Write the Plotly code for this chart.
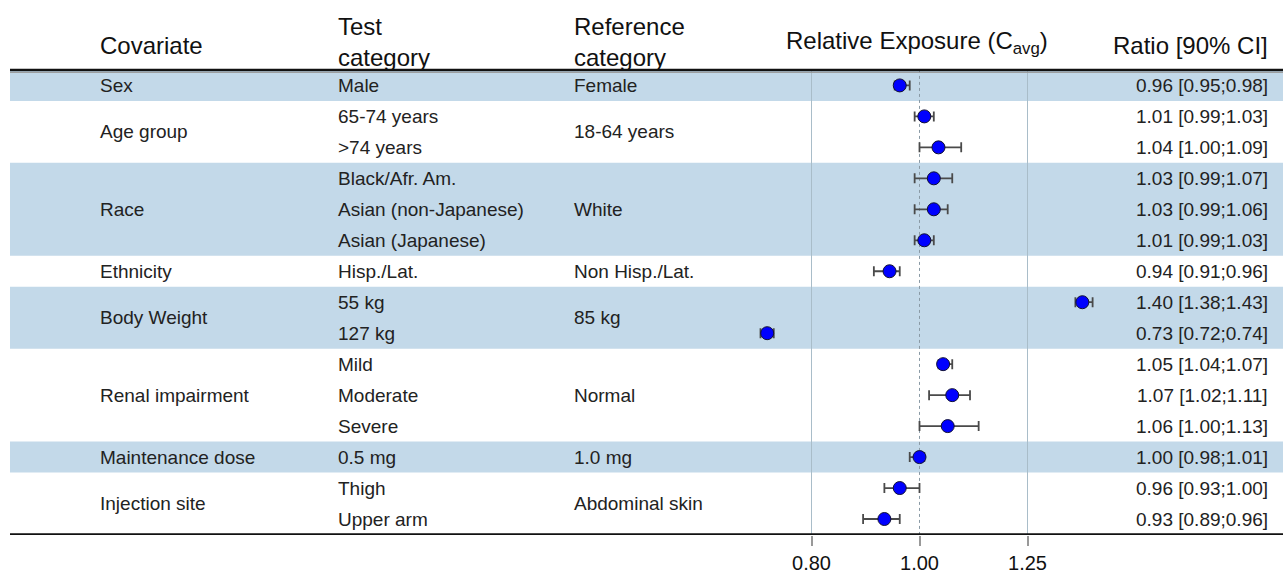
import plotly.graph_objects as go

# ---------------- data ----------------
covariates = ["Sex", "Age group", "Race", "Ethnicity", "Body Weight",
              "Renal impairment", "Maintenance dose", "Injection site"]
group_sizes = [1, 2, 3, 1, 2, 3, 1, 2]
reference_categories = ["Female", "18-64 years", "White", "Non Hisp./Lat.",
                        "85 kg", "Normal", "1.0 mg", "Abdominal skin"]
test_categories = ["Male", "65-74 years", ">74 years", "Black/Afr. Am.",
                   "Asian (non-Japanese)", "Asian (Japanese)", "Hisp./Lat.",
                   "55 kg", "127 kg", "Mild", "Moderate", "Severe",
                   "0.5 mg", "Thigh", "Upper arm"]
ratio = [0.96, 1.01, 1.04, 1.03, 1.03, 1.01, 0.94, 1.40, 0.73,
         1.05, 1.07, 1.06, 1.00, 0.96, 0.93]
ci_low = [0.95, 0.99, 1.00, 0.99, 0.99, 0.99, 0.91, 1.38, 0.72,
          1.04, 1.02, 1.00, 0.98, 0.93, 0.89]
ci_high = [0.98, 1.03, 1.09, 1.07, 1.06, 1.03, 0.96, 1.43, 0.74,
           1.07, 1.11, 1.13, 1.01, 1.00, 0.96]
tick_vals = [0.80, 1.00, 1.25]
tick_text = ["0.80", "1.00", "1.25"]

# ---------------- layout helpers ----------------
W, H = 1283, 575
FONT = "Liberation Sans, Arial, sans-serif"
BAND = "#C3D9E9"
BODY = dict(size=19, color="#222", family=FONT)
n_rows = len(test_categories)
rows = list(range(n_rows))

def px(x):
    return x / W

fig = go.Figure()

annotations = []
shapes = []
start = 0
for gi, (cov, size, ref) in enumerate(zip(covariates, group_sizes, reference_categories)):
    center = start + (size - 1) / 2
    if gi % 2 == 0:
        shapes.append(dict(type="rect", xref="paper", yref="y", x0=px(10), x1=1,
                           y0=start - 0.5, y1=start + size - 0.5,
                           fillcolor=BAND, line=dict(width=0), layer="below"))
    annotations.append(dict(x=px(98), y=center, xref="paper", yref="y", text=cov,
                            xanchor="left", yanchor="middle", showarrow=False, font=BODY))
    annotations.append(dict(x=px(572), y=center, xref="paper", yref="y", text=ref,
                            xanchor="left", yanchor="middle", showarrow=False, font=BODY))
    start += size

for i, t in enumerate(test_categories):
    annotations.append(dict(x=px(336), y=i, xref="paper", yref="y", text=t,
                            xanchor="left", yanchor="middle", showarrow=False, font=BODY))
    annotations.append(dict(x=px(1270), y=i, xref="paper", yref="y",
                            text=f"{ratio[i]:.2f} [{ci_low[i]:.2f};{ci_high[i]:.2f}]",
                            xanchor="right", yanchor="middle", showarrow=False, font=BODY))

# headers
hy = -1.3
hdr_font = dict(size=24, color="#111", family=FONT)
annotations += [
    dict(x=px(98), y=hy, xref="paper", yref="y", text="Covariate", xanchor="left",
         yanchor="middle", showarrow=False, font=hdr_font),
    dict(x=px(336), y=hy - 0.1, xref="paper", yref="y", text="Test<br>category",
         xanchor="left", yanchor="middle", showarrow=False, font=hdr_font, align="left"),
    dict(x=px(572), y=hy - 0.1, xref="paper", yref="y", text="Reference<br>category",
         xanchor="left", yanchor="middle", showarrow=False, font=hdr_font, align="left"),
    dict(x=px(917), y=hy - 0.1, xref="paper", yref="y",
         text="Relative Exposure (C<sub>avg</sub>)", xanchor="center",
         yanchor="middle", showarrow=False, font=hdr_font),
    dict(x=px(1270), y=hy, xref="paper", yref="y", text="Ratio [90% CI]",
         xanchor="right", yanchor="middle", showarrow=False, font=hdr_font),
]

# top / bottom rules
for yv in (-0.5, n_rows - 0.5):
    shapes.append(dict(type="line", xref="paper", yref="y", x0=px(10), x1=1,
                       y0=yv, y1=yv, line=dict(color="#111", width=2.5), layer="above"))
    shapes.append(dict(type="line", xref="paper", yref="y", x0=px(10), x1=1,
                       y0=yv + 0.08, y1=yv + 0.08, line=dict(color="#999", width=1),
                       layer="above"))

# reference vertical lines
for tv in tick_vals:
    fig.add_trace(go.Scatter(
        x=[tv, tv], y=[-0.5, n_rows - 0.5], mode="lines", hoverinfo="skip",
        line=dict(color="#8a9aa5" if tv == 1.0 else "#A9BDC9", width=1,
                  dash="dot" if tv == 1.0 else "solid"),
        showlegend=False))

# points with CI
fig.add_trace(go.Scatter(
    x=ratio, y=rows, mode="markers", showlegend=False,
    marker=dict(size=13, color="#0000FF", line=dict(color="#111133", width=1)),
    error_x=dict(type="data", symmetric=False,
                 array=[h - r for h, r in zip(ci_high, ratio)],
                 arrayminus=[r - l for r, l in zip(ratio, ci_low)],
                 color="#4a4a4a", thickness=1.8, width=5),
))

# axis ranges mapping pixels: 1.00 at x=919.5, 1114.4 px per decade
ppd = 1114.4
x_lo = -919.5 / ppd
x_hi = (W - 919.5) / ppd
plot_bottom = 535.5
row0 = 85.5
row_h = 31.0
y_top = -row0 / row_h
y_bot = (plot_bottom - row0) / row_h

fig.update_layout(
    width=W, height=H,
    margin=dict(l=0, r=0, t=0, b=H - plot_bottom, autoexpand=False),
    paper_bgcolor="white", plot_bgcolor="white",
    shapes=shapes, annotations=annotations,
    xaxis=dict(type="log", range=[x_lo, x_hi], domain=[0, 1], automargin=False,
               tickvals=tick_vals, ticktext=tick_text,
               ticks="outside", ticklen=10, tickcolor="#999", tickwidth=1.5,
               showgrid=False, zeroline=False, showline=False,
               tickfont=dict(size=20, color="#111", family=FONT),
               ticklabelstandoff=0),
    yaxis=dict(range=[y_bot, y_top], visible=False, showgrid=False, zeroline=False,
               automargin=False),
)

fig.write_html("out.html")
